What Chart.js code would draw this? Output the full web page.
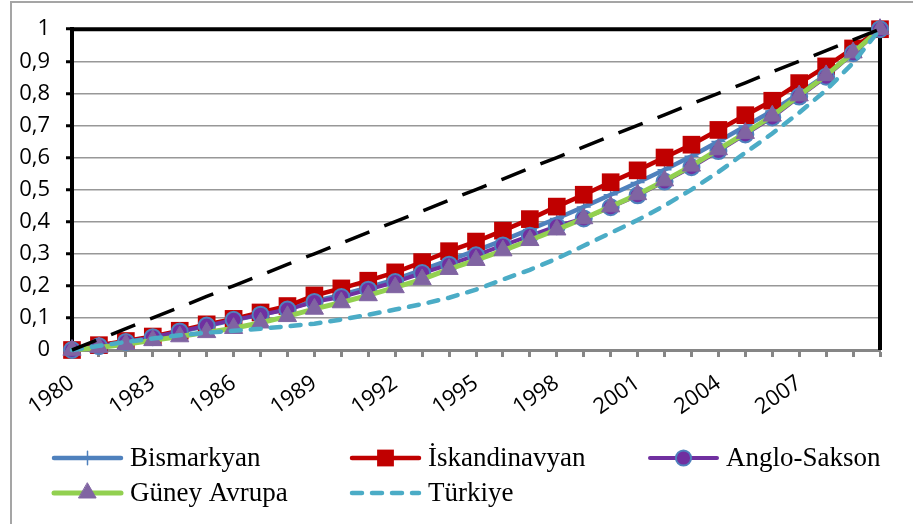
<!DOCTYPE html>
<html lang="tr">
<head>
<meta charset="utf-8">
<script src="https://cdn.jsdelivr.net/npm/chart.js@4.4.1/dist/chart.umd.min.js"></script>
<style>
  html, body { margin: 0; padding: 0; background: #fff; overflow: hidden; }
  #cerceve { position: absolute; left: 10px; top: 1px; width: 930px; height: 560px; border: 2px solid #a5a5a5; }
  #kutu { position: absolute; left: 0; top: 0; width: 913px; height: 524px; }
</style>
</head>
<body>
<div id="cerceve"></div>
<div id="kutu"><canvas id="grafik" width="913" height="524"></canvas></div>
<script>
// Yıllar (x ekseni)
const yillar = ['1980','1981','1982','1983','1984','1985','1986','1987','1988','1989',
                '1990','1991','1992','1993','1994','1995','1996','1997','1998','1999',
                '2000','2001','2002','2003','2004','2005','2006','2007','2008','2009','2010'];

// Seriler (birikimli paylar)
const bismarkyan = [0, 0.013, 0.026, 0.040, 0.057, 0.075, 0.093, 0.110, 0.128, 0.152,
                    0.172, 0.195, 0.220, 0.250, 0.280, 0.310, 0.342, 0.376, 0.410, 0.446,
                    0.484, 0.522, 0.562, 0.604, 0.650, 0.698, 0.745, 0.800, 0.858, 0.925, 1];
const iskandinavyan = [0, 0.015, 0.028, 0.042, 0.060, 0.080, 0.097, 0.117, 0.137, 0.170,
                       0.192, 0.216, 0.242, 0.274, 0.308, 0.338, 0.372, 0.408, 0.447, 0.484,
                       0.523, 0.560, 0.600, 0.640, 0.686, 0.732, 0.777, 0.832, 0.884, 0.940, 1];
const angloSakson = [0, 0.012, 0.025, 0.040, 0.058, 0.076, 0.094, 0.110, 0.126, 0.150,
                     0.165, 0.188, 0.212, 0.240, 0.266, 0.295, 0.326, 0.356, 0.386, 0.410,
                     0.445, 0.482, 0.525, 0.570, 0.620, 0.672, 0.725, 0.790, 0.852, 0.925, 1];
const guneyAvrupa = [0, 0.008, 0.018, 0.030, 0.042, 0.055, 0.068, 0.085, 0.105, 0.128,
                     0.148, 0.170, 0.195, 0.220, 0.252, 0.280, 0.310, 0.342, 0.375, 0.410,
                     0.447, 0.485, 0.528, 0.574, 0.625, 0.676, 0.730, 0.793, 0.856, 0.927, 1];
const turkiye = [0, 0.013, 0.025, 0.036, 0.046, 0.054, 0.060, 0.066, 0.074, 0.082,
                 0.095, 0.110, 0.126, 0.143, 0.163, 0.188, 0.220, 0.250, 0.285, 0.325,
                 0.365, 0.405, 0.450, 0.500, 0.555, 0.615, 0.675, 0.740, 0.810, 0.895, 1];
// Eşitlik doğrusu
const esitlik = [0, 0.033, 0.067, 0.1, 0.133, 0.167, 0.2, 0.233, 0.267, 0.3,
                 0.333, 0.367, 0.4, 0.433, 0.467, 0.5, 0.533, 0.567, 0.6, 0.633,
                 0.667, 0.7, 0.733, 0.767, 0.8, 0.833, 0.867, 0.9, 0.933, 0.967, 1];

// Çizim alanının üst ve sağ kenarı (siyah)
const cerceveEklentisi = {
    id: 'cerceve',
    beforeDatasetsDraw(chart) {
        const { ctx, chartArea: a } = chart;
        ctx.save();
        ctx.strokeStyle = '#000';
        ctx.lineWidth = 4;
        ctx.beginPath();
        ctx.moveTo(a.left, a.top);
        ctx.lineTo(a.right, a.top);
        ctx.lineTo(a.right, a.bottom);
        ctx.stroke();
        ctx.restore();
    }
};

// Alt kısımdaki lejant (3 sütunlu)
const lejantEklentisi = {
    id: 'lejant',
    afterDraw(chart) {
        const ctx = chart.ctx;
        const ogeler = chart.data.datasets.filter(d => d.lejantta !== false);
        ogeler.forEach((ds, i) => {
            const x = 52 + (i % 3) * 298;
            const y = 458 + Math.floor(i / 3) * 35;
            ctx.save();
            ctx.lineWidth = ds.borderWidth;
            ctx.strokeStyle = ds.borderColor;
            ctx.lineCap = 'round';
            ctx.setLineDash(ds.borderDash || []);
            ctx.beginPath();
            ctx.moveTo(x + 2, y);
            ctx.lineTo(x + 69, y);
            ctx.stroke();
            ctx.setLineDash([]);
            if (ds.pointRadius > 0) {
                ctx.fillStyle = ds.pointBackgroundColor;
                ctx.strokeStyle = ds.pointBorderColor;
                ctx.lineWidth = ds.pointBorderWidth;
                Chart.helpers.drawPoint(ctx, {
                    pointStyle: ds.pointStyle,
                    radius: ds.pointRadius * 0.95,
                    borderWidth: ds.pointBorderWidth,
                    rotation: 0
                }, x + 35.5, y);
            }
            ctx.fillStyle = '#000';
            ctx.font = '27px "Liberation Serif"';
            ctx.textBaseline = 'middle';
            ctx.fillText(ds.label, x + 78, y + 1);
            ctx.restore();
        });
    }
};

const ctx = document.getElementById('grafik').getContext('2d');

new Chart(ctx, {
    type: 'line',
    data: {
        labels: yillar,
        datasets: [
            {
                label: 'Bismarkyan', data: bismarkyan,
                borderColor: '#4F81BD', borderWidth: 4.5,
                pointStyle: 'cross', pointRadius: 7, pointBorderWidth: 1.5,
                pointBackgroundColor: '#4F81BD', pointBorderColor: '#4F81BD',
                order: 5
            },
            {
                label: 'İskandinavyan', data: iskandinavyan,
                borderColor: '#C00000', borderWidth: 4.5,
                pointStyle: 'rect', pointRadius: 12.5, pointBorderWidth: 0,
                pointBackgroundColor: '#C00000', pointBorderColor: '#C00000',
                order: 4
            },
            {
                label: 'Anglo-Sakson', data: angloSakson,
                borderColor: '#7030A0', borderWidth: 4,
                pointStyle: 'circle', pointRadius: 8, pointBorderWidth: 2,
                pointBackgroundColor: '#7030A0', pointBorderColor: '#4F81BD',
                order: 3
            },
            {
                label: 'Güney Avrupa', data: guneyAvrupa,
                borderColor: '#92D050', borderWidth: 5,
                pointStyle: 'triangle', pointRadius: 10.5, pointBorderWidth: 1,
                pointBackgroundColor: '#8064A2', pointBorderColor: '#8064A2',
                order: 2
            },
            {
                label: 'Türkiye', data: turkiye,
                borderColor: '#4BACC6', borderWidth: 4.5,
                borderDash: [10, 10], borderCapStyle: 'round',
                pointRadius: 0,
                order: 1
            },
            {
                label: 'Eşitlik', data: esitlik, lejantta: false,
                borderColor: '#000000', borderWidth: 3.5,
                borderDash: [26, 16],
                pointRadius: 0,
                order: 0
            }
        ]
    },
    options: {
        responsive: false,
        animation: false,
        clip: false,
        datasets: { line: { tension: 0, fill: false, clip: false } },
        layout: { padding: { top: 23, right: 33, left: 0, bottom: 94 } },
        plugins: {
            legend: { display: false },
            tooltip: { enabled: false }
        },
        scales: {
            x: {
                offset: false,
                border: { color: '#868686', width: 3 },
                grid: { drawOnChartArea: false, tickLength: 7, tickColor: '#868686', tickWidth: 3 },
                ticks: {
                    autoSkip: false,
                    minRotation: 35,
                    maxRotation: 35,
                    padding: 13,
                    color: '#000',
                    font: { family: '"Open Sans"', size: 22 },
                    callback: function (v, i) {
                        return (i % 3 === 0 && i < yillar.length - 1) ? yillar[i] : '';
                    }
                },
                afterFit(scale) { scale.height = 80; }
            },
            y: {
                min: 0,
                max: 1,
                border: { color: '#000', width: 4 },
                grid: { color: '#989898', lineWidth: 1.5, tickLength: 6, tickColor: '#000', tickWidth: 3 },
                ticks: {
                    stepSize: 0.1,
                    padding: 16,
                    color: '#000',
                    font: { family: '"Open Sans"', size: 22 },
                    callback: function (v) {
                        if (Math.abs(v) < 1e-9) return '0';
                        if (Math.abs(v - 1) < 1e-9) return '1';
                        return v.toFixed(1).replace('.', ',');
                    }
                },
                afterFit(scale) { scale.width = 72; }
            }
        }
    },
    plugins: [cerceveEklentisi, lejantEklentisi]
});
</script>
</body>
</html>
